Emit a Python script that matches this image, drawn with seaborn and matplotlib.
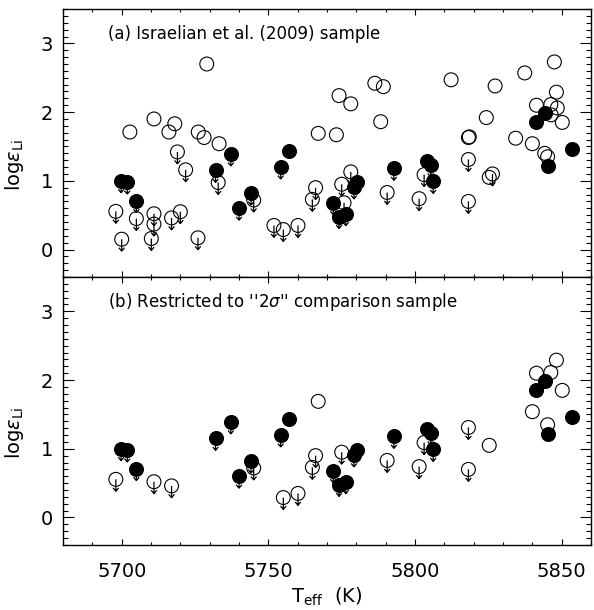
"""Li 組成 vs 有効温度 の2段散布図."""

import matplotlib

matplotlib.use("Agg")

import matplotlib.pyplot as plt
import pandas as pd
import seaborn as sns
from matplotlib.path import Path
from matplotlib.ticker import MultipleLocator

# --- データ ---
# 白丸（検出値）
open_teff = [5729.0, 5711.0, 5702.8, 5716.1, 5718.1, 5726.1, 5728.1, 5733.2,
             5774.1, 5778.1, 5786.3, 5789.2, 5788.3, 5767.0, 5773.2, 5812.3,
             5827.3, 5837.4, 5847.5, 5848.2, 5841.4, 5846.3, 5848.5, 5846.4,
             5850.2, 5824.3, 5818.2, 5818.5, 5834.3, 5840.0, 5844.2, 5845.2,
             5825.3]
open_logli = [2.70, 1.90, 1.71, 1.71, 1.83, 1.71, 1.63, 1.54,
              2.24, 2.12, 2.42, 2.37, 1.86, 1.69, 1.67, 2.47,
              2.38, 2.57, 2.73, 2.29, 2.10, 2.11, 2.06, 1.96,
              1.85, 1.92, 1.63, 1.64, 1.62, 1.54, 1.40, 1.35,
              1.05]
open_2sigma = [0, 0, 0, 0, 0, 0, 0, 0,
               0, 0, 0, 0, 0, 1, 0, 0,
               0, 0, 0, 1, 1, 1, 0, 0,
               1, 0, 0, 0, 0, 1, 0, 1,
               1]

# 白丸（上限値）
open_lim_teff = [5719.0, 5721.8, 5732.9, 5745.0, 5698.0, 5705.0, 5711.0, 5711.0,
                 5717.0, 5720.0, 5700.0, 5710.1, 5726.0, 5766.1, 5765.0, 5751.9,
                 5755.1, 5760.1, 5778.1, 5775.0, 5775.8, 5790.5, 5801.4, 5803.1,
                 5818.2, 5818.2, 5826.4]
open_lim_logli = [1.42, 1.16, 0.975, 0.72, 0.555, 0.45, 0.52, 0.37,
                  0.46, 0.55, 0.15, 0.16, 0.17, 0.90, 0.73, 0.35,
                  0.29, 0.35, 1.13, 0.95, 0.68, 0.83, 0.74, 1.09,
                  1.31, 0.70, 1.10]
open_lim_2sigma = [0, 0, 0, 1, 1, 0, 1, 0,
                   1, 0, 0, 0, 0, 1, 1, 0,
                   1, 1, 0, 1, 0, 1, 1, 1,
                   1, 1, 0]

# 黒丸（上限値）
filled_lim_teff = [5699.8, 5701.9, 5705.0, 5740.0, 5744.1, 5737.2, 5732.0, 5754.2,
                   5780.3, 5779.2, 5772.1, 5774.1, 5776.4, 5792.8, 5806.2, 5805.3]
filled_lim_logli = [1.00, 0.98, 0.71, 0.60, 0.82, 1.39, 1.15, 1.20,
                    0.98, 0.91, 0.68, 0.48, 0.52, 1.18, 0.99, 1.23]

# 黒丸（検出値）
filled_teff = [5757.0, 5804.2, 5844.2, 5841.4, 5845.3, 5853.4]
filled_logli = [1.44, 1.29, 1.99, 1.85, 1.22, 1.46]

panel_labels = [
    "(a) Israelian et al. (2009) sample",
    "(b) Restricted to ''2$\\sigma$'' comparison sample",
]

# 1つの表にまとめる
frames = [
    pd.DataFrame({"teff": open_teff, "logli": open_logli, "host": False,
                  "limit": False, "in2s": [bool(v) for v in open_2sigma]}),
    pd.DataFrame({"teff": open_lim_teff, "logli": open_lim_logli, "host": False,
                  "limit": True, "in2s": [bool(v) for v in open_lim_2sigma]}),
    pd.DataFrame({"teff": filled_lim_teff, "logli": filled_lim_logli, "host": True,
                  "limit": True, "in2s": True}),
    pd.DataFrame({"teff": filled_teff, "logli": filled_logli, "host": True,
                  "limit": False, "in2s": True}),
]
stars = pd.concat(frames, ignore_index=True)

# 下向き矢印マーカー（中心から下へ）
ARROW = Path(
    [(0, 0), (0, -1), (-0.24, -0.72), (0, -1), (0.24, -0.72)],
    [Path.MOVETO, Path.LINETO, Path.MOVETO, Path.LINETO, Path.LINETO],
)

sns.set_style("ticks")
plt.rcParams.update({
    "font.family": ["DejaVu Sans"],
    "mathtext.fontset": "dejavusans",
    "text.color": "black",
    "axes.labelcolor": "black",
    "xtick.color": "black",
    "ytick.color": "black",
    "xtick.direction": "in",
    "ytick.direction": "in",
    "axes.linewidth": 1.0,
    "axes.edgecolor": "black",
})


def draw_panel(ax, df, label):
    """1段分の散布図を描く."""
    opens = df[~df["host"]]
    limits = df[df["limit"]]
    hosts = df[df["host"]]

    sns.scatterplot(data=opens, x="teff", y="logli", ax=ax, marker="o", s=100,
                    facecolor="none", edgecolor="black", linewidth=0.8,
                    legend=False, zorder=2)
    sns.scatterplot(data=limits, x="teff", y="logli", ax=ax, marker=ARROW, s=290,
                    facecolor="none", edgecolor="black", linewidth=0.9,
                    legend=False, zorder=3)
    sns.scatterplot(data=hosts, x="teff", y="logli", ax=ax, marker="o", s=100,
                    color="black", edgecolor="black", linewidth=0.8,
                    legend=False, zorder=4)

    ax.set_xlim(5680, 5860)
    ax.set_ylim(-0.4, 3.5)
    ax.xaxis.set_major_locator(MultipleLocator(50))
    ax.xaxis.set_minor_locator(MultipleLocator(10))
    ax.yaxis.set_major_locator(MultipleLocator(1))
    ax.yaxis.set_minor_locator(MultipleLocator(0.1))
    ax.tick_params(which="both", top=True, right=True, width=0.8)
    ax.tick_params(axis="x", which="major", length=4, pad=12, labelsize=14)
    ax.tick_params(axis="x", which="minor", length=2.2)
    ax.tick_params(axis="y", which="major", length=8, pad=7, labelsize=14)
    ax.tick_params(axis="y", which="minor", length=3.6)

    ax.set_ylabel(r"log$\epsilon_{\rm Li}$", fontsize=14)
    ax.yaxis.set_label_coords(-0.07, 0.42)
    ax.text(0.085, 0.908, label, transform=ax.transAxes, fontsize=12,
            ha="left", va="center")


fig = plt.figure(figsize=(5.94, 6.10), dpi=100)
ax_top = fig.add_axes([0.1061, 0.5459, 0.8889, 0.4393])
ax_bot = fig.add_axes([0.1061, 0.1066, 0.8889, 0.4393])

draw_panel(ax_top, stars, panel_labels[0])
draw_panel(ax_bot, stars[stars["in2s"]], panel_labels[1])

ax_top.set_xlabel("")
ax_top.tick_params(axis="x", labelbottom=False)
ax_bot.set_xlabel(r"T$_{\rm eff}$  (K)", fontsize=14, labelpad=4)

fig.savefig("out.png", dpi=100)
plt.close(fig)
